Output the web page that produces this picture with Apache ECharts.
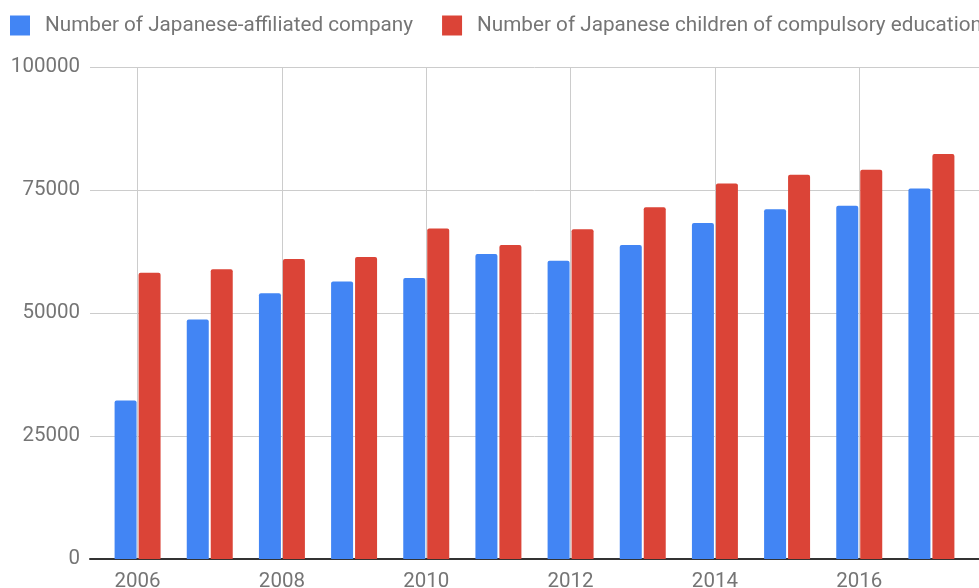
<!DOCTYPE html>
<html>
<head>
<meta charset="utf-8">
<script src="https://cdn.jsdelivr.net/npm/echarts@6/dist/echarts.min.js"></script>
<style>
  html, body { margin: 0; padding: 0; background: #fff; }
  #chart { width: 979px; height: 588px; }
</style>
</head>
<body>
<div id="chart"></div>
<script>
const years = ['2006', '2007', '2008', '2009', '2010', '2011', '2012', '2013', '2014', '2015', '2016', '2017']
const companies = [32200, 48700, 54000, 56400, 57100, 62000, 60600, 63800, 68300, 71100, 71800, 75300]
const children = [58200, 58900, 61000, 61400, 67200, 63800, 67000, 71500, 76300, 78100, 79100, 82300]
const yTicks = [0, 25000, 50000, 75000, 100000]

const labelColor = '#757575'
const font = 'Roboto, sans-serif'

const chart = echarts.init(document.getElementById('chart'), null, { renderer: 'canvas' })
chart.setOption({
  animation: false,
  textStyle: { fontFamily: font },
  legend: {
    left: 5, top: 10, width: 1500,
    itemWidth: 20, itemHeight: 20, itemGap: 29,
    icon: 'rect',
    textStyle: { color: labelColor, fontSize: 20.7, fontFamily: font, padding: [0, 0, 0, 10] },
    data: ['Number of Japanese-affiliated company', 'Number of Japanese children of compulsory education'],
  },
  grid: [
    // background grid: horizontal gridlines, y labels, baseline
    { left: 90, right: 0, top: 67, bottom: 29, outerBoundsMode: 'none' },
    // bars
    { left: 101.5, right: 11.5, top: 67, bottom: 29, outerBoundsMode: 'none' },
  ],
  xAxis: [
    {
      gridIndex: 0, type: 'value', min: 0, max: 1,
      axisLabel: { show: false }, axisTick: { show: false }, splitLine: { show: false },
      axisLine: { show: true, lineStyle: { color: '#333', width: 2 } },
    },
    {
      gridIndex: 1, type: 'category', data: years,
      axisLine: { show: false }, axisTick: { show: false },
      axisLabel: { interval: 1, color: labelColor, fontSize: 20.5, margin: 12, fontFamily: font },
      splitLine: { show: true, interval: 1, alignWithLabel: true, lineStyle: { color: '#cccccc', width: 1 } },
    },
  ],
  yAxis: [
    {
      gridIndex: 0, type: 'value', min: yTicks[0], max: yTicks[yTicks.length - 1], interval: 25000,
      axisLine: { show: false }, axisTick: { show: false },
      axisLabel: { color: labelColor, fontSize: 20.5, margin: 10, fontFamily: font, formatter: (v) => String(v) },
      splitLine: { lineStyle: { color: '#cccccc', width: 1 } },
    },
    {
      gridIndex: 1, type: 'value', min: yTicks[0], max: yTicks[yTicks.length - 1], interval: 25000,
      show: false, splitLine: { show: false },
    },
  ],
  series: [
    {
      name: 'Number of Japanese-affiliated company', type: 'bar',
      xAxisIndex: 1, yAxisIndex: 1, data: companies,
      barWidth: 22, barGap: '9%',
      itemStyle: { color: '#4285F4', borderRadius: [2, 2, 0, 0] },
    },
    {
      name: 'Number of Japanese children of compulsory education', type: 'bar',
      xAxisIndex: 1, yAxisIndex: 1, data: children,
      barWidth: 22, barGap: '9%',
      itemStyle: { color: '#DB4437', borderRadius: [2, 2, 0, 0] },
    },
  ],
})
</script>
</body>
</html>
